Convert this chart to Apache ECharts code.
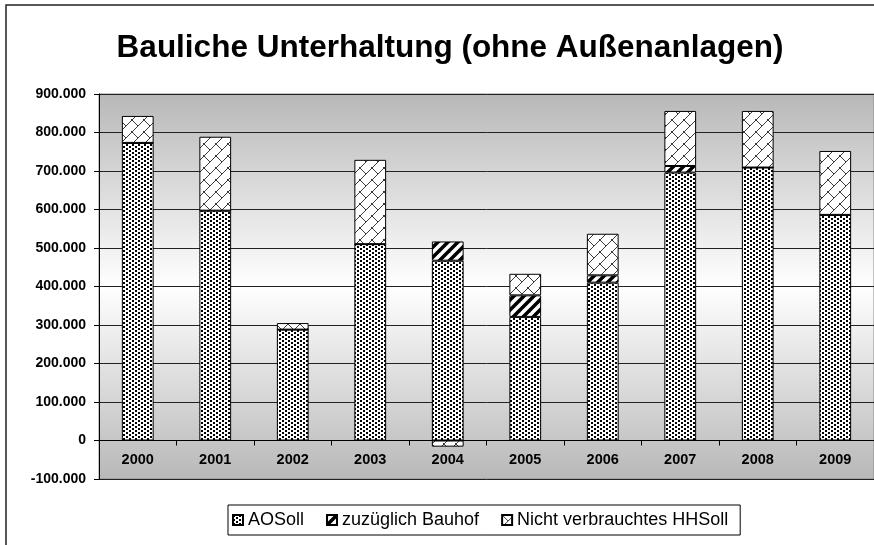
<!DOCTYPE html>
<html>
<head>
<meta charset="utf-8">
<script src="https://cdn.jsdelivr.net/npm/echarts@6/dist/echarts.min.js"></script>
<style>
html,body{margin:0;padding:0;background:#fff;}
#chart{width:874px;height:545px;}
</style>
</head>
<body>
<div id="chart"></div>
<script>
const years = ['2000','2001','2002','2003','2004','2005','2006','2007','2008','2009'];
const aoSoll = [773000, 597000, 288000, 510000, 467000, 321000, 410000, 696000, 709000, 586000];
const bauhof = [0, 0, 0, 0, 50000, 56000, 19000, 17000, 0, 0];
const nichtVerbraucht = [70000, 192000, 17000, 219000, -16000, 56000, 108000, 143000, 147000, 166000];
const seriesNames = ['AOSoll', 'zuzüglich Bauhof', 'Nicht verbrauchtes HHSoll'];
const titleText = 'Bauliche Unterhaltung (ohne Außenanlagen)';

function tile(w, h, draw) {
  const c = document.createElement('canvas');
  c.width = w; c.height = h;
  const ctx = c.getContext('2d');
  ctx.fillStyle = '#fff';
  ctx.fillRect(0, 0, w, h);
  draw(ctx, w, h);
  return c;
}
const dotsPattern = tile(6, 4, (ctx) => {
  ctx.fillStyle = '#000';
  ctx.fillRect(0, 0, 2, 2);
  ctx.fillRect(3, 2, 2, 2);
});
const stripePattern = tile(10, 10, (ctx, w) => {
  ctx.strokeStyle = '#000';
  ctx.lineWidth = 3.5;
  [0, w, 2 * w].forEach(c => {
    ctx.beginPath();
    ctx.moveTo(c - 12, 12);
    ctx.lineTo(c + 12, -12);
    ctx.stroke();
  });
});
const brickPattern = tile(12, 12, (ctx, w) => {
  ctx.strokeStyle = '#3a3a3a';
  ctx.lineWidth = 1;
  [0, w, 2 * w].forEach(c => {
    ctx.beginPath();
    ctx.moveTo(c - 14, 14);
    ctx.lineTo(c + 14, -14);
    ctx.stroke();
  });
  ctx.beginPath();
  ctx.moveTo(-1, -1); ctx.lineTo(w / 2, w / 2);
  ctx.moveTo(w - 1, w - 1); ctx.lineTo(w + 1, w + 1);
  ctx.stroke();
});

function fmt(v) {
  const s = String(Math.abs(v)).replace(/\B(?=(\d{3})+(?!\d))/g, '.');
  return (v < 0 ? '-' : '') + s;
}

const font = 'Liberation Sans, Arial, sans-serif';
const chart = echarts.init(document.getElementById('chart'), null, {renderer: 'canvas'});

function barSeries(name, data, pattern) {
  return {
    name: name,
    type: 'bar',
    stack: 'total',
    barWidth: '41%',
    data: data,
    itemStyle: {
      color: {image: pattern, repeat: 'repeat'},
      borderColor: '#000',
      borderWidth: 1
    },
    emphasis: {disabled: true}
  };
}

chart.setOption({
  animation: false,
  backgroundColor: '#fff',
  title: {
    text: titleText,
    left: 445,
    textAlign: 'center',
    top: 27,
    textStyle: {fontFamily: font, fontSize: 31.5, fontWeight: 'bold', color: '#000'}
  },
  graphic: [{
    type: 'rect',
    shape: {x: 6, y: 5, width: 900, height: 600},
    style: {fill: 'none', stroke: '#222', lineWidth: 1.5},
    z: 100,
    silent: true
  }],
  legend: {
    left: 228,
    top: 505,
    data: seriesNames,
    orient: 'horizontal',
    itemWidth: 10,
    itemHeight: 10,
    itemGap: 22,
    padding: [6, 12, 6, 4],
    borderColor: '#000',
    borderWidth: 1,
    icon: 'rect',
    textStyle: {fontFamily: font, fontSize: 18, color: '#000', padding: [0, 0, 0, 0]}
  },
  grid: {
    left: 99, right: 0, top: 94, bottom: 66,
    show: true,
    borderColor: '#8a8a8a',
    borderWidth: 1,
    backgroundColor: new echarts.graphic.LinearGradient(0, 0, 0, 1, [
      {offset: 0, color: '#b8b8b8'},
      {offset: 0.5, color: '#ffffff'},
      {offset: 1, color: '#b8b8b8'}
    ])
  },
  xAxis: {
    type: 'category',
    data: years,
    offset: -38.5,
    axisLine: {show: true, onZero: false, lineStyle: {color: '#000', width: 1}},
    axisTick: {show: true, length: 5, alignWithLabel: false, lineStyle: {color: '#000'}},
    axisLabel: {fontFamily: font, fontSize: 14.5, fontWeight: 'bold', color: '#000', margin: 12},
    splitLine: {show: false}
  },
  yAxis: {
    type: 'value',
    min: -100000,
    max: 900000,
    interval: 100000,
    axisLine: {show: true, lineStyle: {color: '#000', width: 1}},
    axisTick: {show: true, length: 5, lineStyle: {color: '#000'}},
    axisLabel: {fontFamily: font, fontSize: 14, fontWeight: 'bold', color: '#000', margin: 13, formatter: fmt},
    splitLine: {show: true, lineStyle: {color: '#222', width: 1}}
  },
  series: [
    barSeries(seriesNames[0], aoSoll, dotsPattern),
    barSeries(seriesNames[1], bauhof, stripePattern),
    barSeries(seriesNames[2], nichtVerbraucht, brickPattern)
  ]
});
</script>
</body>
</html>
